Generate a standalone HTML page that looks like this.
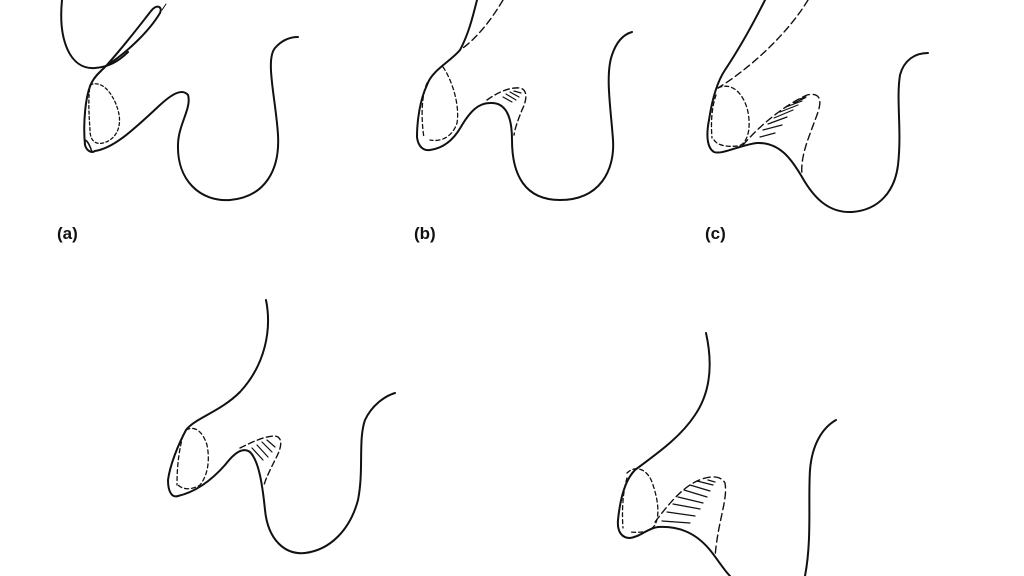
<!DOCTYPE html>
<html><head><meta charset="utf-8"><style>
html,body{margin:0;padding:0;background:#fff;}
svg{display:block}
text{font-family:"Liberation Sans",sans-serif;font-size:17px;font-weight:bold;fill:#111}
</style></head><body>
<svg width="1024" height="576" viewBox="0 0 1024 576" xmlns="http://www.w3.org/2000/svg">
<g fill="none" stroke="#111" stroke-width="2" stroke-linecap="round" stroke-linejoin="round">
<!-- (a) -->
<path d="M62,0 C58,40 70,70 95,68 C108,67 118,62 128,52"/>
<path d="M106,66 C125,45 140,25 151,11 C156,4 163,6 160,13 C150,30 128,52 106,66Z"/>
<path d="M106,66 C100,72 95,76 92,82 C85,95 83,125 85,145 C87,152 92,153 95,151 C115,148 135,128 160,105 C172,94 182,88 188,95 C192,108 178,125 178,145 C177,180 200,202 230,200 C265,197 280,170 278,135 C276,100 265,60 275,48 C282,40 290,37 298,37"/>
<path d="M85,140 C84,146 87,151 92,152 C90,146 88,141 85,140Z" stroke-width="1.5"/>
<path d="M90,85 C100,80 112,90 118,110 C123,128 115,140 103,143 C95,145 90,140 90,130 C89,115 88,100 90,85Z" stroke-width="1.3" stroke-dasharray="3,2.5"/>
<path d="M162,10 L166,4" stroke-width="1"/>
<!-- (b) -->
<path d="M477,0 C472,20 468,35 460,50 C450,62 432,70 427,85 C420,100 417,120 417,137 C418,147 424,151 430,150 C445,148 455,138 462,125 C470,112 478,103 490,103 C505,102 512,115 512,140 C512,175 525,200 560,200 C600,200 615,170 613,140 C611,110 605,75 612,55 C617,40 625,34 632,32"/>
<path d="M503,0 C490,22 475,40 460,50" stroke-width="1.4" stroke-dasharray="7,4"/>
<path d="M443,67 C452,80 460,105 457,123 C452,138 440,142 430,140 M427,83 C420,100 422,125 424,138" stroke-width="1.3" stroke-dasharray="4,3"/>
<path d="M487,100 C498,92 510,87 520,88 C528,90 527,100 522,110 C518,120 515,128 514,135" stroke-width="1.4" stroke-dasharray="6,3.5"/>
<path d="M503,97 L512,102 M506,94 L516,100 M510,92 L519,97 M514,91 L521,93" stroke-width="1.2"/>
<!-- (c) -->
<path d="M765,0 C750,30 735,55 725,70 C717,82 712,100 709,120 C706,135 707,148 714,152 C722,155 740,145 757,143 C780,142 792,160 802,177 C815,200 830,213 852,212 C880,210 895,190 898,165 C902,130 896,100 900,75 C904,60 915,53 928,53"/>
<path d="M808,0 C790,30 755,65 718,88" stroke-width="1.4" stroke-dasharray="7,4"/>
<path d="M718,88 C735,80 748,100 749,120 C750,135 745,145 738,146 C728,147 718,146 714,140 M716,95 C711,110 711,125 712,138" stroke-width="1.3" stroke-dasharray="4,3"/>
<path d="M743,145 C760,125 785,105 807,95 C820,92 822,100 818,112 C810,135 800,155 802,175" stroke-width="1.4" stroke-dasharray="7,4"/>
<path d="M760,137 L775,133 M763,130 L782,125 M768,124 L787,117 M774,118 L793,110 M780,112 L798,105 M786,107 L802,101 M794,103 L805,98 M800,99 L806,97" stroke-width="1.2"/>
<!-- (d) -->
<path d="M266,300 C272,330 265,365 240,392 C220,412 195,418 186,430 C178,445 170,465 168,480 C168,492 172,498 178,496 C195,492 210,482 225,465 C235,452 243,447 250,452 C258,460 262,480 265,510 C268,540 285,555 305,553 C330,550 350,530 358,500 C364,470 358,440 365,420 C372,405 385,396 395,393"/>
<path d="M186,430 C195,425 203,432 207,445 C210,460 208,475 200,485 C192,490 183,490 178,485 M183,435 C178,455 177,470 177,485" stroke-width="1.3" stroke-dasharray="4,3"/>
<path d="M240,448 C252,442 265,436 275,436 C283,437 282,447 276,458 C270,470 266,478 264,485" stroke-width="1.4" stroke-dasharray="6,3.5"/>
<path d="M252,448 L263,460 M257,445 L268,457 M262,442 L272,452 M267,440 L275,447" stroke-width="1.2"/>
<!-- (e) -->
<path d="M706,333 C712,360 712,390 695,415 C680,438 655,455 635,470 C625,480 620,500 618,520 C617,532 622,538 630,538 C640,537 648,528 658,527 C678,526 695,532 710,550 C718,560 724,570 730,576"/>
<path d="M805,576 C812,540 808,500 810,470 C812,445 822,428 836,420"/>
<path d="M627,473 C635,465 648,468 653,485 C658,500 660,515 655,525 C650,532 640,533 630,532 M627,478 C622,495 622,515 623,528" stroke-width="1.3" stroke-dasharray="4,3"/>
<path d="M655,522 C668,505 680,490 695,482 C707,476 720,474 725,483 C728,500 718,520 715,557" stroke-width="1.4" stroke-dasharray="7,4"/>
<path d="M662,521 L690,523 M667,512 L695,516 M673,504 L700,509 M678,497 L703,503 M684,490 L707,497 M690,485 L710,491 M697,481 L713,485 M708,480 L715,482" stroke-width="1.2"/>
</g>
<text x="57" y="239">(a)</text>
<text x="414" y="239">(b)</text>
<text x="705" y="239">(c)</text>
</svg>
</body></html>
